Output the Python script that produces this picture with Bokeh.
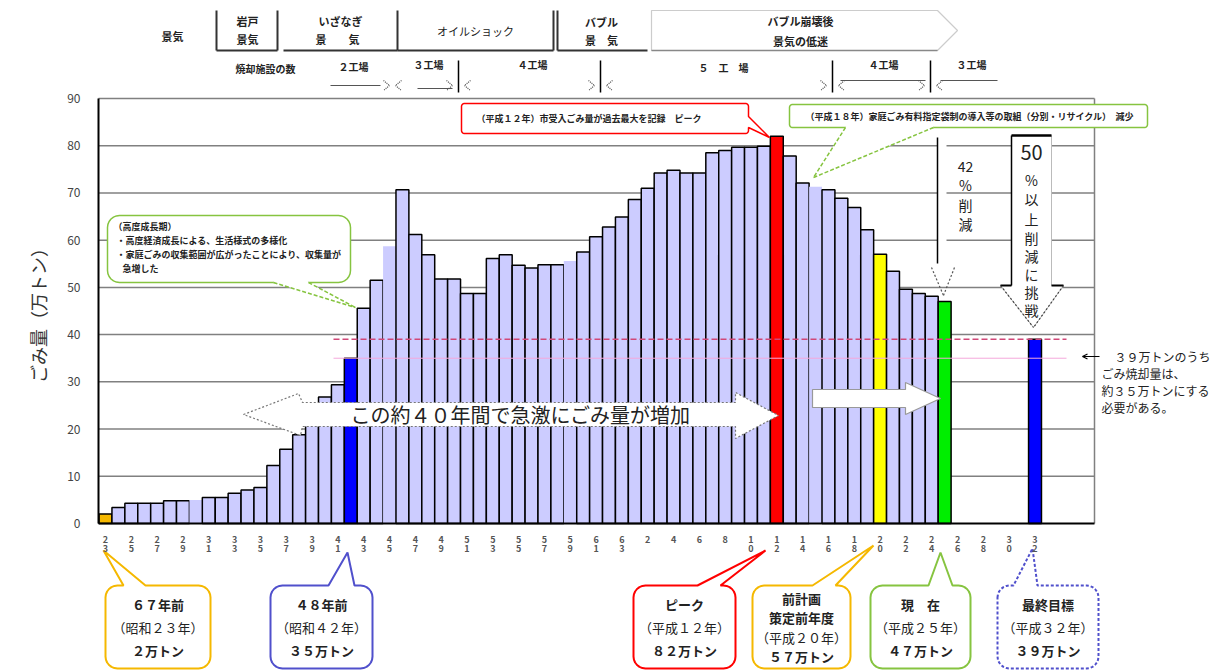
import math

from bokeh.embed import file_html
from bokeh.models import (Arrow, ColumnDataSource, FixedTicker, Label, OpenHead,
                          PolyAnnotation, Range1d)
from bokeh.plotting import figure
from bokeh.resources import INLINE

# ---------------------------------------------------------------- data
# Annual amount of waste handled by the city (unit: 10,000 t), 1948-2013, plus the 2020 target
years = list(range(1948, 2014)) + [2020]
amounts = [
    2.0, 3.4, 4.3, 4.3, 4.3, 4.8, 4.8, 5.0, 5.5, 5.5,          # 1948-1957
    6.4, 7.1, 7.6, 12.3, 15.7, 18.8, 22.0, 26.8, 29.4, 35.0,   # 1958-1967
    45.6, 51.5, 58.7, 70.7, 61.2, 56.9, 51.8, 51.8, 48.7, 48.7,  # 1968-1977
    56.1, 56.9, 54.7, 54.1, 54.8, 54.8, 55.6, 57.5, 60.7, 62.8,  # 1978-1987
    64.9, 68.6, 71.0, 74.2, 74.8, 74.2, 74.2, 78.5, 79.0, 79.7,  # 1988-1997
    79.7, 79.9, 82.0, 77.8, 72.1, 71.3, 70.7, 68.9, 66.9, 62.2,  # 1998-2007
    57.0, 53.4, 49.6, 48.7, 48.1, 47.0,                          # 2008-2013
    39.0,                                                        # 2020 target
]
incineration_target = 35.0

# Axis ticks every two years, labelled in Showa / Heisei era years
tick_years = list(range(1948, 2021, 2))
tick_labels = ["23", "25", "27", "29", "31", "33", "35", "37", "39", "41", "43",
               "45", "47", "49", "51", "53", "55", "57", "59", "61", "63",
               "2", "4", "6", "8", "10", "12", "14", "16", "18", "20", "22",
               "24", "26", "28", "30", "32"]
y_ticks = [0, 10, 20, 30, 40, 50, 60, 70, 80, 90]

# ---------------------------------------------------------------- styling
JP = "Noto Sans CJK JP"
BAR = "#CCCCFF"
HIGHLIGHT = {1948: "#F5B800", 1967: "#0000FF", 2000: "#FF0000",
             2008: "#FFFF00", 2013: "#00EE00", 2020: "#0000FF"}
NO_EDGE = {1955, 1970, 1984, 2003}
ORANGE, BLUE, RED, GREEN = "#F5B800", "#5050CC", "#FF0000", "#86C440"

W, H = 1225, 670
LEFT, RIGHT, TOP, BOTTOM = 98, 1094, 98, 523
PX_PER_YEAR = 12.91
PX_PER_UNIT = (BOTTOM - TOP) / 90


def to_x(px):
    """canvas pixel column -> year coordinate"""
    return 1948 + (px - 105) / PX_PER_YEAR


def to_y(py):
    """canvas pixel row -> amount coordinate"""
    return (BOTTOM - py) / PX_PER_UNIT


# the data frame spans the whole page so that the notes around the chart can be drawn too
p = figure(width=W, height=H, output_backend="svg", toolbar_location=None,
           x_range=Range1d(to_x(0), to_x(W)), y_range=Range1d(to_y(H), to_y(0)),
           min_border=0)
p.background_fill_color = "white"
p.border_fill_color = "white"
p.outline_line_color = None
p.xgrid.visible = False
p.ygrid.visible = False

p.yaxis.fixed_location = to_x(LEFT)
p.yaxis.bounds = (0, 90)
p.yaxis.ticker = FixedTicker(ticks=y_ticks)
p.yaxis.major_tick_line_color = None
p.yaxis.minor_tick_line_color = None
p.yaxis.axis_line_color = "black"
p.yaxis.axis_line_width = 2
p.yaxis.major_label_text_font = JP
p.yaxis.major_label_text_font_size = "12px"
p.yaxis.major_label_text_color = "#444444"
p.yaxis.major_label_standoff = 12
p.yaxis.axis_label = "ごみ量（万トン）"
p.yaxis.axis_label_text_font = JP
p.yaxis.axis_label_text_font_size = "18px"
p.yaxis.axis_label_text_font_style = "normal"
p.yaxis.axis_label_text_color = "#333333"
p.yaxis.axis_label_standoff = 13

p.xaxis.fixed_location = 0
p.xaxis.bounds = (to_x(LEFT), to_x(RIGHT))
p.xaxis.ticker = FixedTicker(ticks=tick_years)
p.xaxis.major_label_overrides = {y: "\n".join(t) for y, t in zip(tick_years, tick_labels)}
p.xaxis.major_tick_line_color = None
p.xaxis.minor_tick_line_color = None
p.xaxis.axis_line_color = "black"
p.xaxis.axis_line_width = 2
p.xaxis.major_label_text_font = JP
p.xaxis.major_label_text_font_size = "9px"
p.xaxis.major_label_text_font_style = "bold"
p.xaxis.major_label_text_color = "#555555"
p.xaxis.major_label_text_line_height = 0.72
p.xaxis.major_label_standoff = 3

# horizontal rules and the chart box (top and right edges)
rules = y_ticks[1:-1]
p.segment(x0=[to_x(LEFT)] * len(rules), y0=rules, x1=[to_x(RIGHT)] * len(rules), y1=rules,
          line_color="#808080", line_width=1.5, level="underlay")
p.segment(x0=[to_x(LEFT), to_x(RIGHT)], y0=[90, 0], x1=[to_x(RIGHT), to_x(RIGHT)], y1=[90, 90],
          line_color="#808080", line_width=1.5, level="underlay")

# ---------------------------------------------------------------- bars
src = ColumnDataSource(dict(
    year=years,
    amount=amounts,
    color=[HIGHLIGHT.get(y, BAR) for y in years],
    edge=[0.0 if y in NO_EDGE else 1.0 for y in years],
))
p.vbar(x="year", top="amount", width=1.0, source=src, fill_color="color",
       line_color="black", line_alpha="edge", line_width=1.5)

# target lines: total waste 39 and incineration 35
final_target = amounts[years.index(2020)]
p.segment(x0=[to_x(333)], y0=[final_target], x1=[to_x(1066)], y1=[final_target],
          line_color="#D04878", line_width=1.5, line_dash="6 3")
p.segment(x0=[to_x(333)], y0=[incineration_target], x1=[to_x(1066)], y1=[incineration_target],
          line_color="#F4A8DC", line_width=1)


# ---------------------------------------------------------------- helpers
def poly(pts, fill="white", line=None, width=1.0, dash="solid", level="annotation"):
    p.add_layout(PolyAnnotation(
        xs=[to_x(a) for a, _ in pts], ys=[to_y(b) for _, b in pts],
        fill_color=fill, fill_alpha=1.0 if fill else 0.0,
        line_color=line, line_alpha=1.0, line_width=width, line_dash=dash,
        level=level))


def seg(a, b, color="black", width=1.0, dash="solid"):
    p.add_layout(Arrow(x_start=to_x(a[0]), y_start=to_y(a[1]),
                       x_end=to_x(b[0]), y_end=to_y(b[1]), end=None,
                       line_color=color, line_width=width, line_dash=dash))


def path(pts, color="black", width=1.0, dash="solid"):
    for a, b in zip(pts[:-1], pts[1:]):
        seg(a, b, color, width, dash)


def text(px, py, s, size=11, bold=False, align="center", baseline="middle",
         color="#222222"):
    p.add_layout(Label(x=to_x(px), y=to_y(py), text=s, text_font=JP,
                       text_font_size=f"{size}px",
                       text_font_style="bold" if bold else "normal",
                       text_align=align, text_baseline=baseline,
                       text_color=color))


def vertical_text(px, rows, chars, size=14):
    for py, ch in zip(rows, chars):
        text(px, py, ch, size)


def balloon(x0, y0, x1, y1, r, ptr=None, side="top"):
    """Rounded box outline with an optional pointer (base a, base b, tip x, tip y)."""
    pts = []

    def arc(cx, cy, a0, a1):
        for k in range(7):
            a = math.radians(a0 + (a1 - a0) * k / 6)
            pts.append((cx + r * math.cos(a), cy + r * math.sin(a)))

    arc(x0 + r, y0 + r, 180, 270)
    if ptr and side == "top":
        pts += [(ptr[0], y0), (ptr[2], ptr[3]), (ptr[1], y0)]
    arc(x1 - r, y0 + r, 270, 360)
    if ptr and side == "right":
        pts += [(x1, ptr[0]), (ptr[2], ptr[3]), (x1, ptr[1])]
    arc(x1 - r, y1 - r, 0, 90)
    if ptr and side == "bottom":
        pts += [(ptr[1], y1), (ptr[2], ptr[3]), (ptr[0], y1)]
    arc(x0 + r, y1 - r, 90, 180)
    return pts


def dashed_pointer_balloon(x0, y0, x1, y1, r, ptr, color):
    """Box with a solid outline and a dashed pointer hanging from its lower edge."""
    poly(balloon(x0, y0, x1, y1, r), fill="white", line=color, width=1.5)
    a, b, tx, ty = ptr
    poly([(a + 1, y1 - 2), (b - 1, y1 - 2), (b, y1), (tx, ty), (a, y1)], fill="white")
    seg((a, y1), (tx, ty), color, 1.5, "4 2")
    seg((b, y1), (tx, ty), color, 1.5, "4 2")


# ---------------------------------------------------------------- economy row
text(172, 35, "景気", 11, bold=True)
path([(216, 10), (216, 50), (277, 50), (277, 10)], "#333333", 2)
text(247, 20, "岩戸", 11, bold=True)
text(247, 38, "景気", 11, bold=True)
path([(283, 50), (397, 50), (397, 10)], "#333333", 2)
text(340, 20, "いざなぎ", 11, bold=True)
text(337, 38, "景　　気", 11, bold=True)
path([(397, 50), (553, 50), (553, 10)], "#333333", 2)
text(475, 30, "オイルショック", 11)
path([(557, 10), (557, 50), (647, 50)], "#333333", 2)
text(601, 21, "バブル", 11, bold=True)
text(601, 39, "景　気", 11, bold=True)
poly([(651, 10), (937, 10), (957, 30), (937, 50), (651, 50)], fill="white", line="#CCCCCC", width=1.2)
seg((651, 50), (937, 50), "#888888", 1.5)
text(800, 20, "バブル崩壊後", 11, bold=True)
text(800, 40, "景気の低迷", 11, bold=True)

# ---------------------------------------------------------------- incinerator row
text(265, 68, "焼却施設の数", 10, bold=True)
for label_x, label_y, s in [(353, 66, "２工場"), (428, 64, "３工場"), (532, 64, "４工場"),
                            (723, 67, "５　工　場"), (883, 64, "４工場"), (971, 64, "３工場")]:
    text(label_x, label_y, s, 10, bold=True)
seg((330, 85), (380, 85), "#555555", 1.2)
seg((417, 88), (452, 88), "#555555", 1.2)
seg((840, 80), (925, 80), "#555555", 1.2)
seg((940, 80), (997, 80), "#555555", 1.2)
for vx in (458, 600, 832, 930):
    seg((vx, 60), (vx, 92), "black", 1.5)
for cx in (392, 458, 600, 832, 930):
    gap = 3 if cx == 392 else 6
    path([(cx - gap - 6, 80), (cx - gap, 85), (cx - gap - 6, 90)], "#555555", 1.2, "1 1")
    path([(cx + gap + 6, 80), (cx + gap, 85), (cx + gap + 6, 90)], "#555555", 1.2, "1 1")

# ---------------------------------------------------------------- growth arrow
poly([(243, 414), (298, 393), (302, 402), (735, 402), (735, 392), (778, 415),
      (735, 438), (735, 426), (302, 426), (300, 435)],
     fill="white", line="#777777", width=1.2, dash="2 2")
text(520, 414, "この約４０年間で急激にごみ量が増加", 20)
poly([(812, 389), (905, 389), (905, 382), (940, 398), (905, 414), (905, 407), (812, 407)],
     fill="white", line="#999999", width=1.2)

# ---------------------------------------------------------------- reduction arrows
poly([(937, 137), (946, 137), (946, 265), (937, 265)], fill="white")
seg((937, 137), (937, 263), "black", 1.5)
path([(931, 267), (943, 295), (954, 267)], "#555555", 1.2, "2 2")
text(965, 166, "42", 14)
vertical_text(965, [184, 204, 223], "%削減")

poly([(1011, 135), (1051, 135), (1051, 285), (1063, 285), (1033, 327), (1000, 285), (1011, 285)],
     fill="white", line="#BBBBBB", width=1)
seg((1011, 135), (1051, 135), "black", 2.5)
seg((1011, 135), (1011, 285), "black", 1.5)
seg((1000, 285), (1011, 285), "black", 2)
seg((1051, 285), (1063, 285), "black", 2)
seg((1000, 285), (1033, 327), "#444444", 1.2, "2 2")
seg((1063, 285), (1033, 327), "#444444", 1.2, "2 2")
text(1031, 152, "50", 20)
vertical_text(1031, [179, 198, 218, 237, 255, 273, 291, 309], "%以上削減に挑戦")

p.add_layout(Arrow(x_start=to_x(1099), y_start=to_y(356), x_end=to_x(1082), y_end=to_y(356),
                   end=OpenHead(size=5, line_width=1.2), line_width=1.2, line_color="black"))
text(1102, 356, "　３９万トンのうち", 12, align="left")
text(1101, 373, "ごみ焼却量は、", 12, align="left")
text(1101, 390, "約３５万トンにする", 12, align="left")
text(1101, 407, "必要がある。", 12, align="left")

# ---------------------------------------------------------------- upper callouts
dashed_pointer_balloon(107, 215, 350, 282, 12, (273, 308, 355, 307), GREEN)
text(113, 226, "（高度成長期）", 9, bold=True, align="left")
text(116, 240, "・高度経済成長による、生活様式の多様化", 9, bold=True, align="left")
text(116, 254, "・家庭ごみの収集範囲が広がったことにより、収集量が", 9, bold=True, align="left")
text(122, 268, "急増した", 9, bold=True, align="left")

poly(balloon(461, 103, 748, 133, 3, (116, 127, 769, 137), side="right"),
     fill="white", line=RED, width=1.5)
text(476, 118, "（平成１２年）市受入ごみ量が過去最大を記録　ピーク", 9, bold=True, align="left")

dashed_pointer_balloon(789, 104, 1147, 127, 3, (845, 933, 813, 177), GREEN)
text(805, 116, "（平成１８年）家庭ごみ有料指定袋制の導入等の取組（分別・リサイクル）　減少",
     9, bold=True, align="left")

# ---------------------------------------------------------------- lower callouts
callouts = [
    (105, 210, (123, 145, 103, 550), ORANGE, "solid",
     [("６７年前", True), ("（昭和２３年）", False), ("２万トン", True)]),
    (270, 372, (328, 354, 347, 552), BLUE, "solid",
     [("４８年前", True), ("（昭和４２年）", False), ("３５万トン", True)]),
    (633, 735, (697, 720, 765, 550), RED, "solid",
     [("ピーク", True), ("（平成１２年）", False), ("８２万トン", True)]),
    (752, 850, (812, 835, 873, 545), ORANGE, "solid",
     [("前計画", True), ("策定前年度", True), ("（平成２０年）", False), ("５７万トン", True)]),
    (870, 970, (928, 952, 940, 552), GREEN, "solid",
     [("現　在", True), ("（平成２５年）", False), ("４７万トン", True)]),
    (997, 1098, (1013, 1037, 1032, 548), BLUE, "3 2",
     [("最終目標", True), ("（平成３２年）", False), ("３９万トン", True)]),
]
for x0, x1, ptr, col, dash, lines in callouts:
    # drawn beneath the axis so the year labels stay readable under the pointers
    poly(balloon(x0, 585, x1, 668, 12, ptr), fill="white", line=col, width=2, dash=dash,
         level="underlay")
    cx = (x0 + x1) / 2
    if len(lines) == 4:
        rows = [598, 617, 637, 656]
    else:
        rows = [604, 627, 650]
    for (s, b), ry in zip(lines, rows):
        text(cx, ry, s, 13, bold=b)

open("out.html", "w").write(file_html(p, INLINE))
